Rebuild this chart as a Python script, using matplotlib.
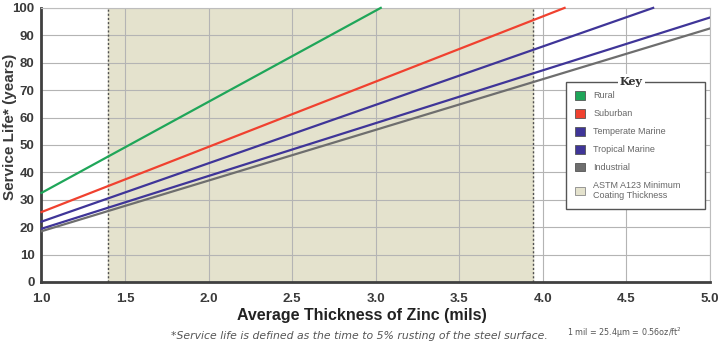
import matplotlib.pyplot as plt
from matplotlib.patches import Patch
import numpy as np

# Service life vs. zinc coating thickness, one straight line per environment
thickness_rural      = [1.0, 3.03]
life_rural           = [32.5, 100]
thickness_suburban   = [1.0, 4.13]
life_suburban        = [25.5, 100]
thickness_temperate  = [1.0, 4.66]
life_temperate       = [22.0, 100]
thickness_tropical   = [1.0, 5.0]
life_tropical        = [19.4, 96.5]
thickness_industrial = [1.0, 5.0]
life_industrial      = [18.5, 92.5]

# ASTM A123 minimum coating thickness band
astm_band = [1.4, 3.94]

xticks = [1.0, 1.5, 2.0, 2.5, 3.0, 3.5, 4.0, 4.5, 5.0]
yticks = [0, 10, 20, 30, 40, 50, 60, 70, 80, 90, 100]

c_rural    = '#1fa659'
c_suburb   = '#f0412f'
c_marine   = '#3f3598'
c_industry = '#6e6e6e'
c_band     = '#e4e2cd'
txt        = '#3a3a3a'

plt.rcParams['font.family'] = ['Liberation Sans', 'DejaVu Sans']

fig = plt.figure(figsize=(7.2, 3.43), dpi=100)
ax = fig.add_axes([0.0576, 0.178, 0.9285, 0.799])

ax.axvspan(astm_band[0], astm_band[1], color=c_band, zorder=0)
for xb in astm_band:
    ax.axvline(xb, color='#505050', lw=1.0, linestyle=(0, (1.5, 1.5)), zorder=1)

ax.set_xlim(1.0, 5.0)
ax.set_ylim(0, 100)
ax.set_xticks(xticks)
ax.set_yticks(yticks)
ax.set_xticklabels(['%.1f' % v for v in xticks])
ax.grid(True, color='#b4b4b4', lw=0.8, zorder=0.5)
ax.set_axisbelow(True)
ax.tick_params(length=0, labelsize=9.5, labelcolor=txt)
ax.tick_params(axis='x', pad=8)
ax.tick_params(axis='y', pad=5)
for lab in ax.get_xticklabels() + ax.get_yticklabels():
    lab.set_fontweight('bold')

ax.plot(thickness_rural, life_rural, color=c_rural, lw=1.6, zorder=3, clip_on=False)
ax.plot(thickness_suburban, life_suburban, color=c_suburb, lw=1.6, zorder=3, clip_on=False)
ax.plot(thickness_temperate, life_temperate, color=c_marine, lw=1.6, zorder=3, clip_on=False)
ax.plot(thickness_tropical, life_tropical, color=c_marine, lw=1.6, zorder=3)
ax.plot(thickness_industrial, life_industrial, color=c_industry, lw=1.6, zorder=3)

for s in ['left', 'bottom']:
    ax.spines[s].set_color('#404040')
    ax.spines[s].set_linewidth(2)
for s in ['top', 'right']:
    ax.spines[s].set_color('#bdbdbd')
    ax.spines[s].set_linewidth(0.8)

ax.set_xlabel('Average Thickness of Zinc (mils)', fontsize=11.5, fontweight='bold',
              color='#222222')
ax.xaxis.set_label_coords(0.48, -0.095)
ax.set_ylabel('Service Life* (years)', fontsize=11, fontweight='bold', color=txt)
ax.yaxis.set_label_coords(-0.037, 0.565)

handles = [Patch(facecolor=c_rural, edgecolor='#555555', lw=0.6),
           Patch(facecolor=c_suburb, edgecolor='#555555', lw=0.6),
           Patch(facecolor=c_marine, edgecolor='#555555', lw=0.6),
           Patch(facecolor=c_marine, edgecolor='#555555', lw=0.6),
           Patch(facecolor=c_industry, edgecolor='#555555', lw=0.6),
           Patch(facecolor=c_band, edgecolor='#888888', lw=0.6)]
labels = ['Rural', 'Suburban', 'Temperate Marine', 'Tropical Marine', 'Industrial',
          'ASTM A123 Minimum\nCoating Thickness']
leg = ax.legend(handles, labels, loc='upper left', bbox_to_anchor=(0.785, 0.53, 0.2075, 0.2),
                mode='expand', fontsize=6.5, labelcolor='#666666', frameon=True,
                fancybox=False, edgecolor='#555555', framealpha=1, handlelength=1.1,
                handleheight=1.1, labelspacing=0.95, borderpad=1.0, borderaxespad=0,
                handletextpad=0.9)
leg.get_frame().set_linewidth(1.0)
leg.set_zorder(5)
ax.text(0.8825, 0.73, 'Key', transform=ax.transAxes, ha='center', va='center',
        fontsize=8, fontweight='bold', family='DejaVu Serif', color='#333333',
        bbox=dict(facecolor='white', edgecolor='none', pad=1.5), zorder=6)

fig.text(0.238, 0.006, '*Service life is defined as the time to 5% rusting of the steel surface.',
         fontsize=7.85, style='italic', family='DejaVu Sans', color='#555555',
         ha='left', va='bottom')
fig.text(0.787, 0.010, '1 mil = 25.4µm = 0.56oz/ft$^2$', fontsize=5.8, family='DejaVu Sans',
         color='#555555', ha='left', va='bottom')

plt.savefig('out.png', dpi=100)
